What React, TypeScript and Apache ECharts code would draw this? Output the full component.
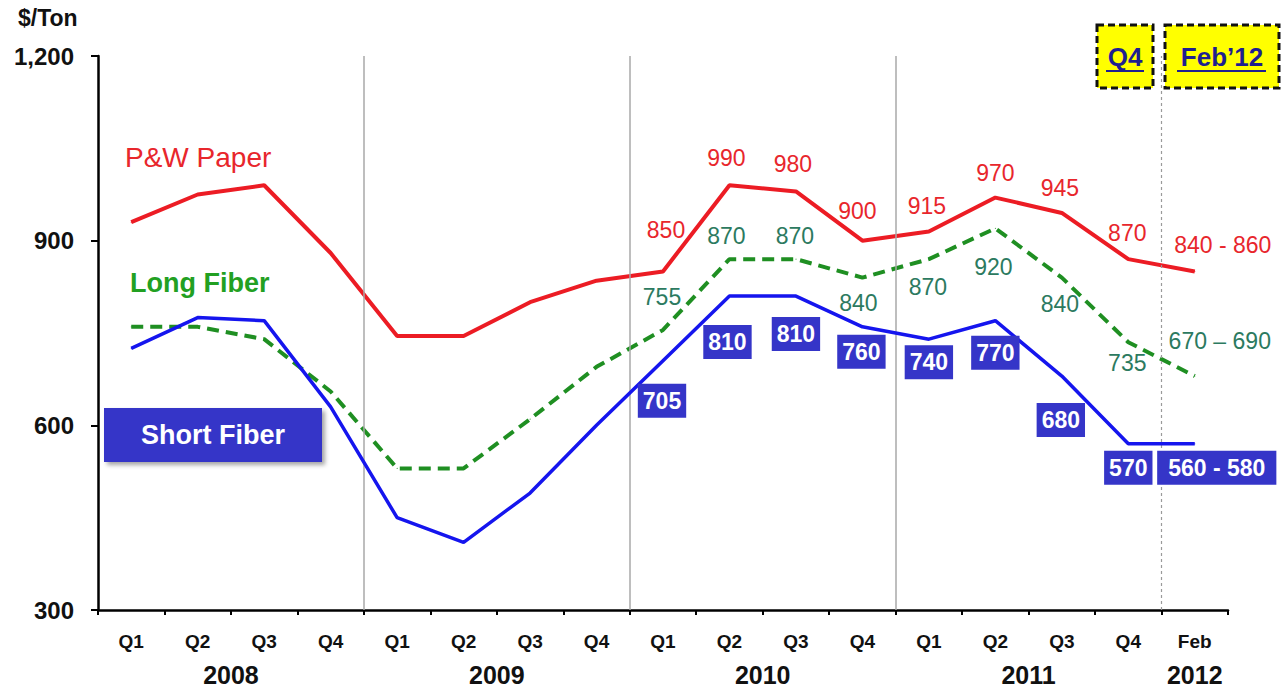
import React, { useEffect, useRef } from "react";
import * as echarts from "echarts";

// Axis categories
const periods = ["Q1", "Q2", "Q3", "Q4", "Q1", "Q2", "Q3", "Q4", "Q1", "Q2", "Q3", "Q4", "Q1", "Q2", "Q3", "Q4", "Feb"];
const yearLabels = ["2008", "2009", "2010", "2011", "2012"];
// Year label centres, in category-span units along the bottom axis
const yearCenters = [2, 6, 10, 14, 16.5];
const yearBreaks = [4, 8, 12];
const latestBreak = 16;
const yTicks = [300, 600, 900, 1200];

// Prices, $/Ton
const paperPrices = [930, 975, 990, 880, 745, 745, 800, 835, 850, 990, 980, 900, 915, 970, 945, 870, 850];
const longFiberPrices = [760, 760, 740, 655, 530, 530, 610, 695, 755, 870, 870, 840, 870, 920, 840, 735, 680];
const shortFiberPrices = [725, 775, 770, 630, 450, 410, 490, 600, 705, 810, 810, 760, 740, 770, 680, 570, 570];
const latestRanges = ["840 - 860", "670 \u2013 690", "560 - 580"];

// Points from this index on carry value labels
const firstLabelled = 8;

// Label offsets (px) from each labelled point
const paperOffsets = [[3, -41], [-3, -27], [-3, -27], [-5, -30], [-2, -25], [0, -25], [-2, -25], [-1, -26], [28, -26]];
const longOffsets = [[-1, -33], [-3, -23], [-1, -23], [-4, 25], [-1, 28], [-2, 39], [-2, 26], [-1, 21], [25, -35]];
const shortOffsets = [[-1, 40], [-2, 46], [0, 38], [-1, 25], [0, 23], [0, 32], [-1, 44], [0, 24], [22, 24]];

const FONT = "'Liberation Sans', Arial, sans-serif";
const RED = "#ec1c24";
const GREEN_LINE = "#1f8f22";
const GREEN_TEXT = "#2c7a60";
const BLUE_LINE = "#1515ee";
const BLUE_BOX = "#3535c8";

function buildData(values: number[], offsets: number[][], range: string) {
  return values.map((v, i) => {
    const k = i - firstLabelled;
    if (k < 0) return { value: v, label: { show: false } };
    return {
      value: v,
      label: {
        show: true,
        offset: offsets[k],
        formatter: i === values.length - 1 ? range : String(v),
      },
    };
  });
}

export default function App() {
  const ref = useRef<HTMLDivElement>(null);

  useEffect(() => {
    if (!ref.current) return;
    const chart = echarts.init(ref.current, undefined, { renderer: "svg" });

    const shortData = buildData(shortFiberPrices, shortOffsets, latestRanges[2]);
    // widen the box around the range label
    (shortData[shortData.length - 1] as any).label.padding = [4, 11];

    const option: any = {
      animation: false,
      backgroundColor: "#ffffff",
      grid: { left: 98, right: 58, top: 56, bottom: 80, containLabel: false },
      xAxis: [
        {
          type: "category",
          data: periods,
          boundaryGap: true,
          position: "bottom",
          axisLine: { show: true, lineStyle: { color: "#000", width: 2.5 } },
          axisTick: { show: true, length: 5, lineStyle: { color: "#000", width: 2 } },
          axisLabel: {
            color: "#111",
            fontSize: 19,
            fontWeight: "bold",
            fontFamily: FONT,
            margin: 22,
            interval: 0,
          },
          splitLine: { show: false },
        },
        {
          type: "value",
          min: 0,
          max: 17,
          interval: 0.5,
          position: "bottom",
          axisLine: { show: false },
          axisTick: { show: false },
          splitLine: { show: false },
          axisLabel: {
            color: "#111",
            fontSize: 25,
            fontWeight: "bold",
            fontFamily: FONT,
            margin: 52,
            formatter: (v: number) => {
              const idx = yearCenters.indexOf(v);
              return idx >= 0 ? yearLabels[idx] : "";
            },
          },
        },
      ],
      yAxis: {
        type: "value",
        min: yTicks[0],
        max: yTicks[yTicks.length - 1],
        interval: yTicks[1] - yTicks[0],
        axisLine: { show: true, lineStyle: { color: "#000", width: 2.5 } },
        axisTick: { show: true, length: 7, lineStyle: { color: "#000", width: 2 } },
        splitLine: { show: false },
        axisLabel: {
          color: "#111",
          fontSize: 24,
          fontWeight: "bold",
          fontFamily: FONT,
          margin: 24,
          formatter: (v: number) => v.toLocaleString("en-US"),
        },
      },
      series: [
        {
          type: "line",
          xAxisIndex: 1,
          yAxisIndex: 0,
          data: [],
          silent: true,
          z: 1,
          markLine: {
            silent: true,
            symbol: ["none", "none"],
            label: { show: false },
            lineStyle: { color: "#a8a8a8", width: 1.5, type: "solid" },
            data: [
              ...yearBreaks.map((b) => ({ xAxis: b })),
              { xAxis: latestBreak, lineStyle: { color: "#9a9a9a", width: 1.2, type: [3, 3] } },
            ],
          },
        },
        {
          name: "P&W Paper",
          type: "line",
          data: buildData(paperPrices, paperOffsets, latestRanges[0]),
          symbol: "circle",
          symbolSize: 1,
          z: 4,
          lineStyle: { color: RED, width: 4 },
          itemStyle: { color: RED },
          label: {
            position: "inside",
            color: "#e8262c",
            fontSize: 23,
            fontFamily: FONT,
          },
        },
        {
          name: "Long Fiber",
          type: "line",
          data: buildData(longFiberPrices, longOffsets, latestRanges[1]),
          symbol: "circle",
          symbolSize: 1,
          z: 3,
          lineStyle: { color: GREEN_LINE, width: 4, type: [12, 7] },
          itemStyle: { color: GREEN_LINE },
          label: {
            position: "inside",
            color: GREEN_TEXT,
            fontSize: 23,
            fontFamily: FONT,
          },
        },
        {
          name: "Short Fiber",
          type: "line",
          data: shortData,
          symbol: "circle",
          symbolSize: 1,
          z: 5,
          lineStyle: { color: BLUE_LINE, width: 3.5 },
          itemStyle: { color: BLUE_LINE },
          label: {
            position: "inside",
            color: "#ffffff",
            fontSize: 23,
            fontWeight: "bold",
            fontFamily: FONT,
            backgroundColor: BLUE_BOX,
            padding: [4, 5],
            lineHeight: 26,
          },
        },
      ],
      graphic: [
        {
          type: "text",
          left: 18,
          top: 6,
          style: { text: "$/Ton", fill: "#111", font: `bold 23px ${FONT}` },
        },
        {
          type: "text",
          left: 125,
          top: 143,
          style: { text: "P&W Paper", fill: "#e8262c", font: `28px ${FONT}` },
        },
        {
          type: "text",
          left: 130,
          top: 269,
          style: { text: "Long Fiber", fill: "#22a022", font: `bold 27px ${FONT}` },
        },
        {
          type: "rect",
          shape: { x: 104, y: 408, width: 218, height: 54 },
          style: {
            fill: BLUE_BOX,
            shadowBlur: 4,
            shadowOffsetX: 3,
            shadowOffsetY: 3,
            shadowColor: "rgba(0,0,0,0.35)",
          },
          z: 10,
        },
        {
          type: "text",
          x: 213,
          y: 435,
          z: 11,
          style: {
            text: "Short Fiber",
            fill: "#ffffff",
            font: `bold 27px ${FONT}`,
            align: "center",
            verticalAlign: "middle",
          },
        },
        {
          type: "rect",
          shape: { x: 1097, y: 25, width: 56, height: 63 },
          style: { fill: "#ffff00", stroke: "#111", lineWidth: 3, lineDash: [7, 4] },
          z: 10,
        },
        {
          type: "text",
          x: 1125,
          y: 57,
          z: 11,
          style: {
            text: "Q4",
            fill: "#1f1f8f",
            font: `bold 26px ${FONT}`,
            align: "center",
            verticalAlign: "middle",
          },
        },
        {
          type: "line",
          z: 11,
          shape: { x1: 1106, y1: 71, x2: 1144, y2: 71 },
          style: { stroke: "#1f1f8f", lineWidth: 2 },
        },
        {
          type: "rect",
          shape: { x: 1165, y: 25, width: 114, height: 63 },
          style: { fill: "#ffff00", stroke: "#111", lineWidth: 3, lineDash: [7, 4] },
          z: 10,
        },
        {
          type: "text",
          x: 1222,
          y: 57,
          z: 11,
          style: {
            text: "Feb\u201912",
            fill: "#1f1f8f",
            font: `bold 26px ${FONT}`,
            align: "center",
            verticalAlign: "middle",
          },
        },
        {
          type: "line",
          z: 11,
          shape: { x1: 1177, y1: 71, x2: 1266, y2: 71 },
          style: { stroke: "#1f1f8f", lineWidth: 2 },
        },
      ],
    };

    chart.setOption(option);
    return () => chart.dispose();
  }, []);

  return (
    <div
      ref={ref}
      style={{ position: "fixed", left: 0, top: 0, width: 1286, height: 690, background: "#fff" }}
    />
  );
}
